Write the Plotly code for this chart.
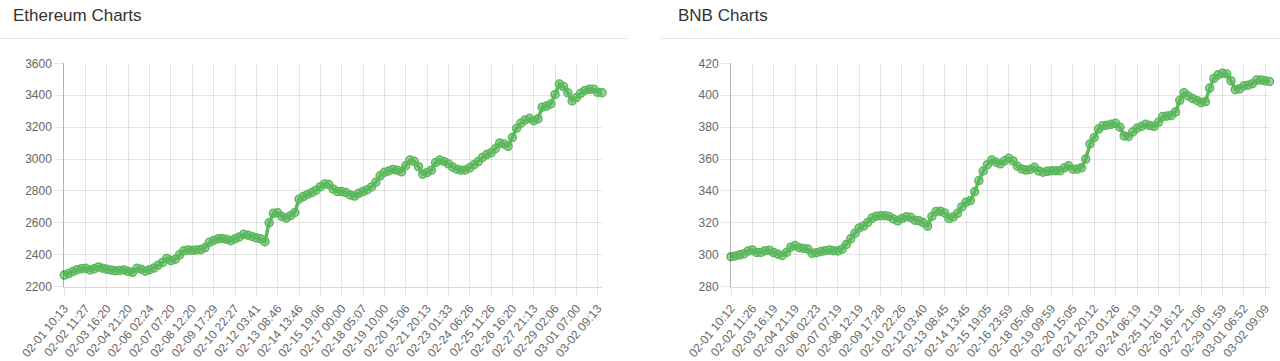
import plotly.graph_objects as go

# ---------------- data ----------------
eth_tick_labels = ["02-01 10:13", "02-02 11:27", "02-03 16:20", "02-04 21:20", "02-06 02:24",
                   "02-07 07:20", "02-08 12:20", "02-09 17:29", "02-10 22:27", "02-12 03:41",
                   "02-13 08:46", "02-14 13:46", "02-15 19:06", "02-17 00:00", "02-18 05:07",
                   "02-19 10:00", "02-20 15:06", "02-21 20:13", "02-23 01:33", "02-24 06:26",
                   "02-25 11:26", "02-26 16:20", "02-27 21:13", "02-29 02:06", "03-01 07:00",
                   "03-02 09:13"]

bnb_tick_labels = ["02-01 10:12", "02-02 11:26", "02-03 16:19", "02-04 21:19", "02-06 02:23",
                   "02-07 07:19", "02-08 12:19", "02-09 17:28", "02-10 22:26", "02-12 03:40",
                   "02-13 08:45", "02-14 13:45", "02-15 19:05", "02-16 23:59", "02-18 05:06",
                   "02-19 09:59", "02-20 15:05", "02-21 20:12", "02-23 01:26", "02-24 06:19",
                   "02-25 11:19", "02-26 16:12", "02-27 21:06", "02-29 01:59", "03-01 06:52",
                   "03-02 09:09"]

eth_prices = [2273, 2282, 2295, 2307, 2313, 2315, 2305, 2312, 2324, 2316,
              2309, 2304, 2300, 2302, 2305, 2295, 2290, 2315, 2310, 2297,
              2307, 2317, 2335, 2352, 2377, 2364, 2372, 2400, 2425, 2430,
              2428, 2430, 2433, 2445, 2478, 2490, 2500, 2502, 2497, 2488,
              2500, 2512, 2528, 2523, 2515, 2506, 2500, 2482, 2600, 2660,
              2663, 2640, 2630, 2645, 2665, 2748, 2765, 2778, 2790, 2805,
              2827, 2844, 2840, 2812, 2796, 2796, 2790, 2775, 2768, 2785,
              2796, 2808, 2825, 2855, 2895, 2917, 2925, 2935, 2930, 2920,
              2958, 2994, 2986, 2952, 2905, 2915, 2930, 2978, 2994, 2985,
              2970, 2950, 2936, 2930, 2932, 2945, 2965, 2984, 3010, 3028,
              3040, 3065, 3100, 3095, 3080, 3135, 3193, 3225, 3245, 3255,
              3240, 3252, 3325, 3332, 3345, 3405, 3470, 3454, 3415, 3365,
              3385, 3412, 3430, 3437, 3438, 3418, 3416]

bnb_prices = [298.8, 299.3, 300.0, 300.6, 302.3, 303.0, 301.5, 301.5, 302.6, 302.8,
              301.4, 300.4, 299.6, 301.5, 304.8, 305.8, 304.4, 304.0, 303.6, 300.9,
              301.3, 302.0, 302.6, 303.0, 302.6, 302.4, 303.5, 306.5, 310.0, 313.5,
              316.8, 318.0, 320.3, 323.0, 324.2, 324.5, 324.5, 324.0, 322.5, 321.3,
              322.8, 323.8, 323.5, 321.7, 321.3, 320.2, 318.0, 324.0, 327.2, 327.3,
              326.2, 322.8, 323.7, 326.0, 330.0, 333.0, 334.0, 339.5, 346.5, 352.5,
              356.5, 359.4, 358.0, 357.0, 358.9, 360.5, 358.8, 355.5, 353.8, 353.1,
              353.5, 354.8, 352.5, 351.8, 352.3, 352.7, 352.7, 352.7, 354.5, 355.8,
              353.6, 353.7, 354.5, 360.0, 369.5, 373.5, 378.8, 380.8, 381.2, 381.8,
              382.4, 380.0, 374.5, 374.2, 377.0, 379.3, 380.4, 381.8, 381.0, 380.5,
              383.0, 386.6, 386.9, 387.3, 389.5, 396.8, 401.6, 399.5, 398.0, 396.7,
              395.4, 396.0, 404.5, 410.5, 412.8, 413.8, 413.3, 409.0, 403.5, 404.0,
              405.9, 406.3, 407.2, 409.5, 409.5, 409.0, 408.6]

eth_yticks = [2200, 2400, 2600, 2800, 3000, 3200, 3400, 3600]
bnb_yticks = [280, 300, 320, 340, 360, 380, 400, 420]

# ---------------- styling ----------------
W, H = 1280, 361
GREEN = "rgb(92,184,92)"
GREEN_FILL = "rgba(92,184,92,0.6)"
GRID = "rgba(0,0,0,0.1)"
TICKFONT = dict(family="Liberation Sans, Arial, sans-serif", size=12, color="#666")
LABEL_STEP = 5  # points between shown labels


def px_x(p):
    return p / W


def px_y(p):
    return (H - p) / H


fig = go.Figure()

for prices, xa, ya in [(eth_prices, "x", "y"), (bnb_prices, "x2", "y2")]:
    fig.add_trace(go.Scatter(
        x=list(range(len(prices))), y=prices, xaxis=xa, yaxis=ya,
        mode="lines+markers",
        line=dict(color=GREEN, width=3.5),
        marker=dict(size=8, color=GREEN_FILL, line=dict(color=GREEN, width=1.5)),
        showlegend=False, hoverinfo="skip", cliponaxis=False,
    ))

ydom = [px_y(286.7), px_y(63.3)]


def xaxis_cfg(labels, n, dom):
    return dict(
        domain=dom, range=[0, n - 1], showgrid=True, gridcolor=GRID, gridwidth=1,
        tickmode="array", tickvals=[i * LABEL_STEP for i in range(len(labels))],
        ticktext=labels, tickangle=-50, tickfont=TICKFONT,
        ticks="outside", ticklen=9, tickcolor=GRID,
        showline=True, linecolor="rgba(0,0,0,0.15)", linewidth=1,
        zeroline=False, fixedrange=True, automargin=False,
    )


def yaxis_cfg(ticks, anchor):
    return dict(
        domain=ydom, range=[ticks[0], ticks[-1]], tickmode="array", tickvals=ticks,
        showgrid=True, gridcolor=GRID, gridwidth=1, tickfont=TICKFONT,
        ticks="outside", ticklen=9, tickcolor=GRID,
        showline=True, linecolor="rgba(0,0,0,0.3)", linewidth=1,
        zeroline=False, anchor=anchor, fixedrange=True, automargin=False,
    )


fig.update_layout(
    width=W, height=H, autosize=False,
    margin=dict(l=0, r=0, t=0, b=0, pad=0),
    paper_bgcolor="white", plot_bgcolor="white",
    xaxis=dict(xaxis_cfg(eth_tick_labels, len(eth_prices), [px_x(64.3), px_x(602)]), anchor="y"),
    yaxis=yaxis_cfg(eth_yticks, "x"),
    xaxis2=dict(xaxis_cfg(bnb_tick_labels, len(bnb_prices), [px_x(731), px_x(1269.5)]), anchor="y2"),
    yaxis2=yaxis_cfg(bnb_yticks, "x2"),
    annotations=[
        dict(text="Ethereum Charts", x=px_x(11), y=px_y(15), xref="paper", yref="paper",
             xanchor="left", yanchor="middle", showarrow=False,
             font=dict(family="Liberation Sans, Arial, sans-serif", size=17, color="#333")),
        dict(text="BNB Charts", x=px_x(676), y=px_y(15), xref="paper", yref="paper",
             xanchor="left", yanchor="middle", showarrow=False,
             font=dict(family="Liberation Sans, Arial, sans-serif", size=17, color="#333")),
    ],
    shapes=[
        dict(type="line", xref="paper", yref="paper", x0=0, x1=px_x(627.5),
             y0=px_y(38.5), y1=px_y(38.5), line=dict(color="#e5e5e5", width=1)),
        dict(type="line", xref="paper", yref="paper", x0=px_x(661), x1=1,
             y0=px_y(38.5), y1=px_y(38.5), line=dict(color="#e5e5e5", width=1)),
    ],
)

fig.write_html("out.html")
